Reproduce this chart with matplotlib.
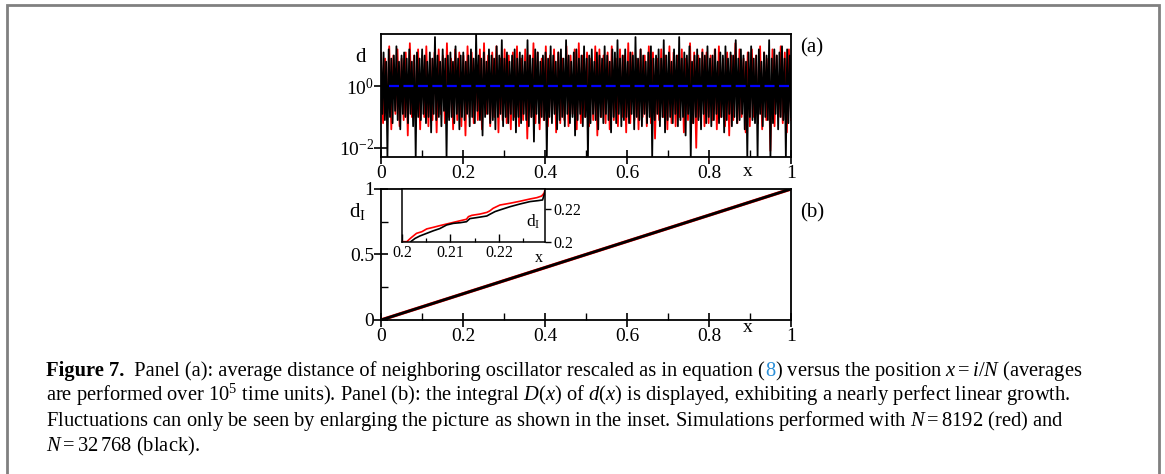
import numpy as np
import matplotlib
matplotlib.use("Agg")
import matplotlib.pyplot as plt
from matplotlib.patches import Rectangle
from matplotlib.ticker import FixedLocator, NullFormatter

plt.rcParams['font.family'] = ['Liberation Serif', 'DejaVu Serif']
plt.rcParams['mathtext.fontset'] = 'custom'
plt.rcParams['mathtext.rm'] = 'Liberation Serif'
plt.rcParams['mathtext.it'] = 'Liberation Serif:italic'
plt.rcParams['mathtext.bf'] = 'Liberation Serif:bold'

# panel (a): log10 of d (upper / lower excursions, in order along x)
black_hi = [0.9, 1.1, 0.8, 1.2, 0.9, 1.0, 1.3, 0.8, 1.0, 1.1, 0.9, 1.2, 0.8, 1.0, 1.1, 0.9,
            1.2, 1.0, 0.8, 1.1, 0.9, 1.6, 1.0, 0.8, 1.2, 0.9, 1.0, 1.1, 0.8, 1.3, 0.9, 1.0,
            1.1, 0.8, 1.0, 1.2, 0.9, 1.7, 1.0, 0.9, 1.1, 0.8, 1.2, 1.0, 0.9, 1.3, 1.0, 1.5,
            0.9, 1.1, 0.8, 1.0, 1.2, 0.9, 1.1, 1.0, 0.8, 1.5, 1.0, 0.9, 1.2, 1.1, 0.8, 1.0,
            1.1, 0.9, 1.3, 1.0, 0.8, 1.1, 1.2, 0.9, 1.5, 1.0, 0.8, 1.1, 1.2, 0.9, 1.0, 1.3,
            0.9, 1.0, 1.2, 0.8, 1.1, 1.0, 0.9, 1.3, 1.0, 0.8, 1.2, 1.1, 1.5, 0.9, 1.0, 1.2,
            0.8, 1.1, 1.0, 1.6, 0.9, 1.2, 1.0, 0.8, 1.1, 1.3, 0.9, 1.0, 1.2, 0.9, 1.5, 1.0,
            1.1, 0.8, 1.2, 1.0, 1.6, 0.9, 1.1, 1.0, 1.3, 0.8, 1.0, 1.2, 0.9, 1.1, 1.0, 1.3,
            0.9, 1.0, 1.2, 0.8, 1.1, 1.0, 1.3, 0.9, 1.1, 1.0, 1.5, 0.9, 1.2, 1.0, 0.8, 1.1,
            1.3, 0.9, 1.0, 1.2, 0.8, 1.1, 1.0, 1.5, 0.9, 1.2, 1.0, 1.1, 1.3, 0.9, 1.2, 1.0]
black_lo = [-0.9, -1.1, -2.3, -1.0, -1.2, -0.8, -1.1, -1.4, -0.9, -1.0, -1.2, -0.9, -1.3, -2.3, -1.0, -1.1,
            -0.9, -1.2, -1.0, -1.5, -0.9, -1.1, -1.0, -1.3, -0.8, -2.3, -1.1, -1.0, -1.2, -0.9, -1.4, -1.0,
            -1.1, -0.9, -1.3, -1.0, -1.2, -0.8, -1.1, -1.6, -1.0, -0.9, -1.2, -1.1, -1.4, -1.0, -0.9, -1.3,
            -1.0, -1.2, -0.9, -1.1, -1.5, -1.0, -1.2, -0.9, -1.1, -1.3, -1.0, -1.8, -0.9, -1.2, -1.0, -1.1,
            -2.3, -1.0, -1.2, -0.9, -1.4, -1.1, -1.0, -1.3, -0.9, -1.2, -1.0, -1.6, -1.1, -0.9, -1.3, -1.0,
            -2.3, -1.2, -0.9, -1.1, -1.4, -1.0, -1.2, -0.9, -1.1, -1.5, -1.0, -1.2, -0.9, -1.3, -1.1, -1.0,
            -1.2, -0.9, -1.4, -1.0, -1.1, -1.3, -0.9, -1.2, -1.0, -2.3, -1.1, -0.9, -1.3, -1.0, -1.5, -1.1,
            -1.0, -1.2, -0.9, -1.3, -1.1, -1.0, -1.6, -0.9, -2.3, -1.2, -1.0, -1.1, -1.4, -0.9, -1.2, -1.0,
            -1.3, -1.1, -0.9, -1.2, -1.0, -1.5, -1.1, -0.9, -1.3, -1.0, -1.2, -1.1, -0.9, -1.4, -2.3, -1.0,
            -1.1, -1.2, -2.3, -0.9, -1.3, -1.0, -1.1, -2.3, -1.2, -0.9, -1.4, -1.0, -1.1, -2.3, -1.2, -1.0]
red_hi = [1.1, 0.9, 1.3, 1.0, 1.2, 0.9, 1.1, 1.4, 1.0, 1.2,
          1.0, 1.3, 0.9, 1.1, 1.2, 1.0, 1.4, 0.9, 1.2, 1.1,
          1.0, 1.3, 1.1, 0.9, 1.2, 1.4, 1.0, 1.1, 1.3, 0.9,
          1.2, 1.0, 1.1, 1.3, 0.9, 1.2, 1.0, 1.4, 1.1, 0.9,
          1.3, 1.0, 1.2, 1.1, 0.9, 1.3, 1.0, 1.2, 1.4, 1.0,
          1.1, 0.9, 1.3, 1.2, 1.0, 1.1, 1.3, 0.9, 1.2, 1.0,
          1.4, 1.1, 0.9, 1.2, 1.0, 1.3, 1.1, 0.9, 1.2, 1.0,
          1.3, 1.1, 1.0, 1.2, 0.9, 1.4, 1.1, 1.0, 1.2, 1.1,
          1.0, 1.2, 1.3, 0.9, 1.1, 1.0, 1.4, 1.2, 0.9, 1.1,
          1.2, 1.0, 1.3, 1.1, 0.9, 1.2, 1.0, 1.3, 1.1, 1.2]
red_lo = [-1.2, -1.0, -1.4, -0.9, -1.3, -1.1, -1.6, -1.0, -1.2, -1.4,
          -1.0, -1.3, -1.1, -1.5, -0.9, -1.2, -1.0, -1.4, -1.1, -1.3,
          -1.6, -1.0, -1.2, -1.1, -1.4, -0.9, -1.3, -1.0, -1.5, -1.1,
          -1.2, -1.4, -1.0, -1.3, -1.1, -1.7, -1.0, -1.2, -1.4, -1.1,
          -1.3, -1.0, -1.5, -1.2, -1.1, -1.3, -0.9, -1.4, -1.2, -1.0,
          -1.3, -1.1, -1.6, -1.0, -1.2, -1.4, -1.1, -1.3, -1.0, -1.5,
          -1.2, -1.1, -1.4, -1.0, -1.3, -1.2, -1.7, -1.1, -1.0, -1.4,
          -1.2, -1.3, -1.0, -1.5, -1.1, -1.2, -2.0, -1.0, -1.3, -1.2,
          -1.1, -1.4, -1.0, -1.3, -1.6, -1.1, -1.2, -1.0, -1.5, -1.3,
          -1.0, -1.2, -1.4, -1.1, -2.1, -1.3, -1.0, -1.2, -1.5, -1.1]
ref_x = [0.02, 1.0]
ref_d = [1.0, 1.0]

# panel (b): integral d_I(x)
int_x = [0.0, 0.25, 0.5, 0.75, 1.0]
int_red = [0.0, 0.25, 0.5, 0.75, 1.0]
int_black = [0.0, 0.25, 0.5, 0.75, 1.0]

# inset
in_red_x = [0.2000, 0.2010, 0.2015, 0.2020, 0.2030, 0.2041, 0.2051, 0.2065, 0.2078,
            0.2092, 0.2106, 0.2120, 0.2133, 0.2137, 0.2144, 0.2161, 0.2175, 0.2181,
            0.2188, 0.2202, 0.2223, 0.2243, 0.2264, 0.2278, 0.2288, 0.2293, 0.2295]
in_red_y = [0.2002, 0.2002, 0.2016, 0.2029, 0.2053, 0.2063, 0.2080, 0.2090, 0.2100,
            0.2110, 0.2120, 0.2130, 0.2139, 0.2155, 0.2163, 0.2171, 0.2181, 0.2190,
            0.2206, 0.2226, 0.2237, 0.2249, 0.2263, 0.2271, 0.2281, 0.2298, 0.2318]
in_black_x = [0.2013, 0.2018, 0.2027, 0.2037, 0.2051, 0.2065, 0.2078, 0.2092, 0.2106,
              0.2120, 0.2133, 0.2140, 0.2154, 0.2175, 0.2181, 0.2192, 0.2202, 0.2223,
              0.2243, 0.2264, 0.2281, 0.2290, 0.2293, 0.2295]
in_black_y = [0.1971, 0.2002, 0.2022, 0.2037, 0.2053, 0.2069, 0.2082, 0.2104, 0.2114,
              0.2118, 0.2124, 0.2143, 0.2149, 0.2159, 0.2169, 0.2186, 0.2196, 0.2216,
              0.2232, 0.2247, 0.2253, 0.2257, 0.2287, 0.2308]

W, H = 1165, 474
fig = plt.figure(figsize=(W / 100, H / 100), dpi=100)


def box(l, t, r, b):
    return [l / W, 1 - b / H, (r - l) / W, (b - t) / H]


def style(ax, size):
    for s in ax.spines.values():
        s.set_linewidth(1.3)
    ax.tick_params(which='major', direction='inout', length=10, width=1.2, labelsize=size)
    ax.tick_params(which='minor', direction='in', length=5, width=1.0)
    ax.tick_params(axis='x', pad=1)
    ax.tick_params(axis='y', pad=0)


# panel (a)
ax_a = fig.add_axes(box(381, 34, 791, 157))
red_log = np.ravel(np.column_stack([red_hi, red_lo]))
black_log = np.ravel(np.column_stack([black_hi, black_lo]))
ax_a.plot(np.linspace(0, 1, len(red_log)), 10.0 ** red_log, color='red', lw=1.3)
ax_a.plot(np.linspace(0, 1, len(black_log)), 10.0 ** black_log, color='black', lw=1.3)
ax_a.plot(ref_x, ref_d, color='#0000ff', lw=1.6, ls=(0, (4.5, 2)))
ax_a.set_yscale('log')
ax_a.set_xlim(0, 1)
ax_a.set_ylim(10 ** -2.3, 10 ** 1.7)
ax_a.yaxis.set_major_locator(FixedLocator([1e-2, 1]))
ax_a.set_yticklabels([r'$10^{-2}$', r'$10^{0}$'])
ax_a.yaxis.set_minor_locator(FixedLocator([]))
ax_a.yaxis.set_minor_formatter(NullFormatter())
ax_a.set_xticks([0, 0.2, 0.4, 0.6, 0.8, 1])
ax_a.set_xticklabels(['0', '0.2', '0.4', '0.6', '0.8', '1'])
ax_a.set_xticks(np.arange(0.1, 1.0, 0.2), minor=True)
style(ax_a, 14)
fig.text(361 / W, 1 - 57 / H, 'd', fontsize=15, ha='center', va='center')
fig.text(748 / W, 1 - 172 / H, 'x', fontsize=14, ha='center', va='center')
fig.text(800 / W, 1 - 48 / H, '(a)', fontsize=15, ha='left', va='center')

# panel (b)
ax_b = fig.add_axes(box(381, 189, 791, 320))
ax_b.plot(int_x, int_red, color='red', lw=2.4)
ax_b.plot(int_x, int_black, color='black', lw=2.0)
ax_b.set_xlim(0, 1)
ax_b.set_ylim(0, 1)
ax_b.set_xticks([0, 0.2, 0.4, 0.6, 0.8, 1])
ax_b.set_xticklabels(['0', '0.2', '0.4', '0.6', '0.8', '1'])
ax_b.set_xticks(np.arange(0.1, 1.0, 0.2), minor=True)
ax_b.set_yticks([0, 0.5, 1])
ax_b.set_yticklabels(['0', '0.5', '1'])
ax_b.set_yticks([0.25, 0.75], minor=True)
style(ax_b, 14)
fig.text(357 / W, 1 - 211 / H, r'd$_{\mathrm{I}}$', fontsize=15, ha='center', va='center')
fig.text(748 / W, 1 - 327 / H, 'x', fontsize=14, ha='center', va='center')
fig.text(800 / W, 1 - 213 / H, '(b)', fontsize=15, ha='left', va='center')

# inset
ax_in = fig.add_axes(box(402, 189, 545, 242))
ax_in.plot(in_red_x, in_red_y, color='red', lw=1.2)
ax_in.plot(in_black_x, in_black_y, color='black', lw=1.2)
ax_in.set_xlim(0.2, 0.2295)
ax_in.set_ylim(0.2, 0.2324)
ax_in.set_xticks([0.2, 0.21, 0.22])
ax_in.set_xticklabels(['0.2', '0.21', '0.22'])
ax_in.set_xticks([0.205, 0.215, 0.225], minor=True)
ax_in.yaxis.tick_right()
ax_in.set_yticks([0.2, 0.22])
ax_in.set_yticklabels(['0.2', '0.22'])
for s in ax_in.spines.values():
    s.set_linewidth(1.1)
ax_in.tick_params(which='major', direction='in', length=6, width=1.0, labelsize=11.5, pad=2)
ax_in.tick_params(axis='y', which='major', direction='out', length=4)
ax_in.tick_params(which='minor', direction='in', length=3, width=0.9)
ax_in.text(0.92, 0.38, r'd$_{\mathrm{I}}$', transform=ax_in.transAxes, fontsize=12.5,
           ha='center', va='center')
fig.text(539 / W, 1 - 258 / H, 'x', fontsize=11.5, ha='center', va='center')

# frame around the figure
fig.add_artist(Rectangle((6.5 / W, -0.1), (1159 - 6.5) / W, 1.1 - 4.5 / H,
                         transform=fig.transFigure, fill=False, ec='#808080', lw=2))

# caption
cap_size = 14.8
renderer = fig.canvas.get_renderer()
x0 = 46
base = 376
step = 25
line1 = [("Figure 7.", dict(weight='bold')),
         ("  Panel (a): average distance of neighboring oscillator rescaled as in equation (", {}),
         ("8", dict(color='#2b8fd8')),
         (r") versus the position $x = i/N$ (averages", {})]
xpos = x0 / W
for txt, kw in line1:
    t = fig.text(xpos, 1 - base / H, txt, fontsize=cap_size, va='baseline', ha='left', **kw)
    xpos = t.get_window_extent(renderer).x1 / W

other_lines = [r"are performed over 10$^5$ time units). Panel (b): the integral $D(x)$ of $d(x)$ is displayed, exhibiting a nearly perfect linear growth.",
               r"Fluctuations can only be seen by enlarging the picture as shown in the inset. Simulations performed with $N = 8192$ (red) and",
               r"$N = 32\,768$ (black)."]
for k, txt in enumerate(other_lines):
    fig.text(x0 / W, 1 - (base + step * (k + 1)) / H, txt, fontsize=cap_size, va='baseline', ha='left')

fig.savefig('out.png', dpi=100)
